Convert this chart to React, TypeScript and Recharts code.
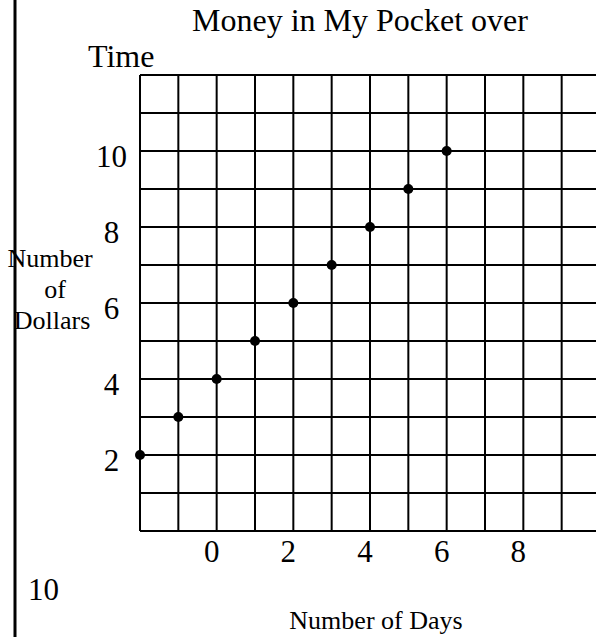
import { LineChart, Line, XAxis, YAxis, CartesianGrid } from 'recharts';

const days = [-2, -1, 0, 1, 2, 3, 4, 5, 6];
const dollars = [2, 3, 4, 5, 6, 7, 8, 9, 10];

const xGridTicks = [-2, -1, 0, 1, 2, 3, 4, 5, 6, 7, 8, 9, 10];
const xLabelTicks = [0, 2, 4, 6, 8];
const yGridTicks = [0, 1, 2, 3, 4, 5, 6, 7, 8, 9, 10, 11, 12];
const yLabelTicks = [2, 4, 6, 8, 10];

const titleLines = ['Money in My Pocket over', 'Time'];
const yLabelLines = ['Number', 'of', 'Dollars'];
const xLabel = 'Number of Days';
const wrappedTick = '10';

const FONT = "'Liberation Serif', 'Times New Roman', serif";

const data = days.map((d, i) => ({ day: d, dollars: dollars[i] }));

function XTick(props: any) {
  const { x, y, payload } = props;
  if (!xLabelTicks.includes(payload.value)) return null;
  return (
    <text x={x - 5} y={y + 31} textAnchor="middle" fontSize={31} fontFamily={FONT} fill="#000">
      {payload.value}
    </text>
  );
}

function YTick(props: any) {
  const { x, y, payload } = props;
  if (!yLabelTicks.includes(payload.value)) return null;
  return (
    <text x={x - 28.5} y={y + 15.5} textAnchor="middle" fontSize={31} fontFamily={FONT} fill="#000">
      {payload.value}
    </text>
  );
}

export default function App() {
  return (
    <div style={{ position: 'absolute', left: 0, top: 0, width: 596, height: 637, overflow: 'hidden', background: '#fff' }}>
      <LineChart width={610} height={637} data={data} margin={{ top: 75, right: 10, left: 100, bottom: 76 }}>
        <CartesianGrid stroke="#000" strokeWidth={2} />
        <XAxis
          type="number"
          dataKey="day"
          domain={[-2, 10]}
          ticks={xGridTicks}
          interval={0}
          height={30}
          axisLine={false}
          tickLine={false}
          tickSize={0}
          tickMargin={0}
          tick={<XTick />}
        />
        <YAxis
          type="number"
          domain={[0, 12]}
          ticks={yGridTicks}
          interval={0}
          width={40}
          axisLine={false}
          tickLine={false}
          tickSize={0}
          tickMargin={0}
          tick={<YTick />}
        />
        <Line
          dataKey="dollars"
          stroke="none"
          dot={{ r: 5, fill: '#000', stroke: 'none' }}
          activeDot={false}
          isAnimationActive={false}
        />
        <line x1={15} y1={0} x2={15} y2={637} stroke="#000" strokeWidth={3} />
        <text x={192} y={31} fontSize={32} fontFamily={FONT} fill="#000">{titleLines[0]}</text>
        <text x={88} y={67} fontSize={32} fontFamily={FONT} fill="#000">{titleLines[1]}</text>
        <text x={50} y={267} textAnchor="middle" fontSize={26} fontFamily={FONT} fill="#000">{yLabelLines[0]}</text>
        <text x={55} y={298} textAnchor="middle" fontSize={26} fontFamily={FONT} fill="#000">{yLabelLines[1]}</text>
        <text x={52} y={329} textAnchor="middle" fontSize={26} fontFamily={FONT} fill="#000">{yLabelLines[2]}</text>
        <text x={376} y={629} textAnchor="middle" fontSize={26} fontFamily={FONT} fill="#000">{xLabel}</text>
        <text x={28} y={600} fontSize={31} fontFamily={FONT} fill="#000">{wrappedTick}</text>
      </LineChart>
    </div>
  );
}
